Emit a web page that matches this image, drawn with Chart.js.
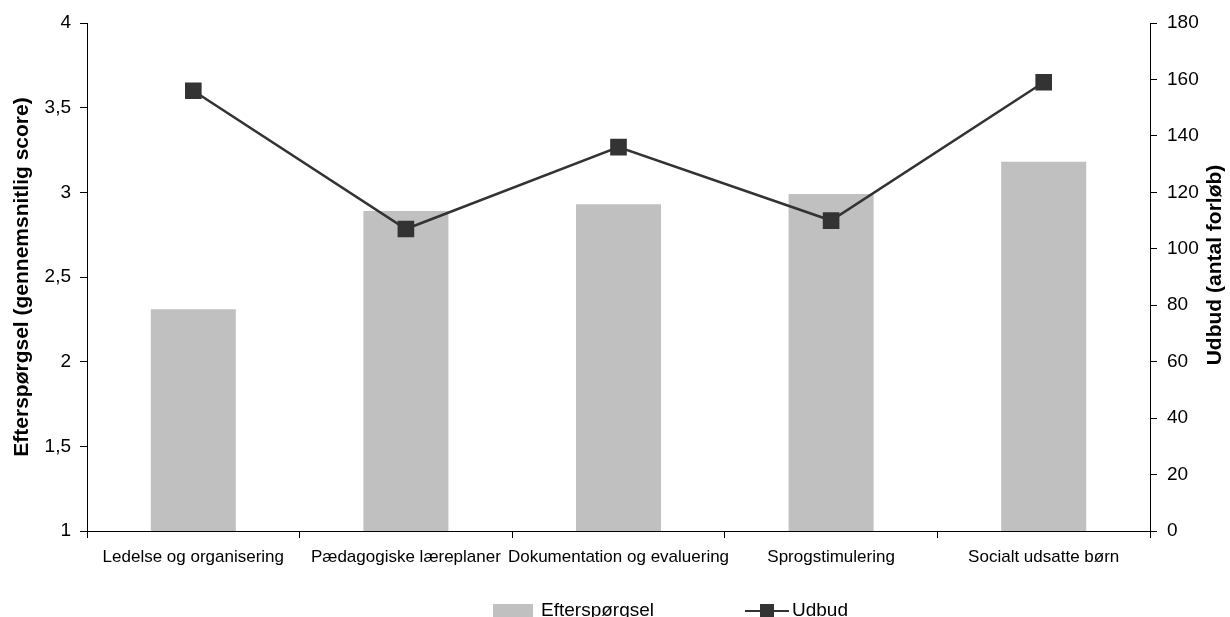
<!DOCTYPE html>
<html lang="da">
<head>
<meta charset="UTF-8">
<title>Efterspørgsel og udbud</title>
<style>
  body { margin: 0; background: #fff; }
  #wrap { width: 1230px; height: 617px; }
</style>
</head>
<body>
<div id="wrap"><canvas id="chart" width="1230" height="617"></canvas></div>

<script src="https://cdn.jsdelivr.net/npm/chart.js"></script>
<script>
// data
const categories = ['Ledelse og organisering', 'Pædagogiske læreplaner', 'Dokumentation og evaluering', 'Sprogstimulering', 'Socialt udsatte børn'];
const efterspoergsel = [2.31, 2.89, 2.93, 2.99, 3.18];
const udbud = [156, 107, 136, 110, 159];
const leftTitle = 'Efterspørgsel (gennemsnitlig score)';
const rightTitle = 'Udbud (antal forløb)';

const FONT = '"Liberation Sans", Arial, sans-serif';
Chart.defaults.font.family = FONT;
Chart.defaults.color = '#000';

// right axis title reads bottom-to-top, and the legend sits low with wide spacing
const extras = {
  id: 'extras',
  afterDraw(chart) {
    const ctx = chart.ctx;
    const area = chart.chartArea;
    const r = chart.scales.y1;
    ctx.save();
    ctx.fillStyle = '#000';
    ctx.font = 'bold 21px ' + FONT;
    ctx.textAlign = 'center';
    ctx.textBaseline = 'middle';
    ctx.translate(r.right - 15, (area.top + area.bottom) / 2 - 12);
    ctx.rotate(-Math.PI / 2);
    ctx.fillText(rightTitle, 0, 0);
    ctx.restore();

    // legend
    const barDs = chart.data.datasets[0];
    const lineDs = chart.data.datasets[1];
    ctx.save();
    ctx.font = '19px ' + FONT;
    ctx.textBaseline = 'alphabetic';
    ctx.textAlign = 'left';
    const w1 = ctx.measureText(barDs.label).width;
    const w2 = ctx.measureText(lineDs.label).width;
    const total = 40 + 8 + w1 + 91 + 44 + 3 + w2;
    let x = (area.left + area.right) / 2 + 52 - total / 2;
    const cy = chart.height - 6;
    ctx.fillStyle = barDs.backgroundColor;
    ctx.fillRect(x, cy - 7, 40, 14);
    x += 48;
    ctx.fillStyle = '#000';
    ctx.fillText(barDs.label, x, cy + 5);
    x += w1 + 91;
    ctx.strokeStyle = lineDs.borderColor;
    ctx.lineWidth = 2;
    ctx.beginPath();
    ctx.moveTo(x, cy);
    ctx.lineTo(x + 44, cy);
    ctx.stroke();
    ctx.fillStyle = lineDs.pointBackgroundColor;
    ctx.fillRect(x + 22 - 7, cy - 7, 14, 14);
    x += 47;
    ctx.fillStyle = '#000';
    ctx.fillText(lineDs.label, x, cy + 5);
    ctx.restore();
  }
};

new Chart(document.getElementById('chart'), {
  data: {
    labels: categories,
    datasets: [
      {
        type: 'bar',
        label: 'Efterspørgsel',
        data: efterspoergsel,
        yAxisID: 'y',
        backgroundColor: '#c0c0c0',
        barPercentage: 0.4,
        categoryPercentage: 1,
        order: 1
      },
      {
        type: 'line',
        label: 'Udbud',
        data: udbud,
        yAxisID: 'y1',
        borderColor: '#333333',
        borderWidth: 2.5,
        pointStyle: 'rect',
        pointRadius: 10,
        pointHoverRadius: 10,
        pointBackgroundColor: '#333333',
        pointBorderColor: '#333333',
        tension: 0,
        order: 0
      }
    ]
  },
  options: {
    responsive: false,
    animation: false,
    layout: { padding: { top: 23, bottom: 50, left: 0, right: 0 } },
    plugins: {
      legend: { display: false },
      tooltip: { enabled: false }
    },
    scales: {
      x: {
        offset: true,
        grid: { offset: true, drawOnChartArea: false, tickLength: 7, color: '#000' },
        border: { color: '#000' },
        ticks: { font: { size: 17 }, padding: 9, maxRotation: 0, autoSkip: false },
        afterFit: s => { s.height = 36; }
      },
      y: {
        position: 'left',
        min: 1,
        max: 4,
        ticks: {
          stepSize: 0.5,
          font: { size: 19 },
          padding: 9,
          callback: v => String(v).replace('.', ',')
        },
        grid: { drawOnChartArea: false, tickLength: 7, color: '#000' },
        border: { color: '#000' },
        title: { display: true, text: leftTitle, font: { size: 21, weight: 'bold' }, padding: { top: 10, bottom: 0 } },
        afterFit: s => { s.width = 87; }
      },
      y1: {
        position: 'right',
        min: 0,
        max: 180,
        ticks: { stepSize: 20, font: { size: 19 }, padding: 10 },
        grid: { drawOnChartArea: false, tickLength: 7, color: '#000' },
        border: { color: '#000' },
        afterFit: s => { s.width = 80; }
      }
    }
  },
  plugins: [extras]
});
</script>
</body>
</html>
